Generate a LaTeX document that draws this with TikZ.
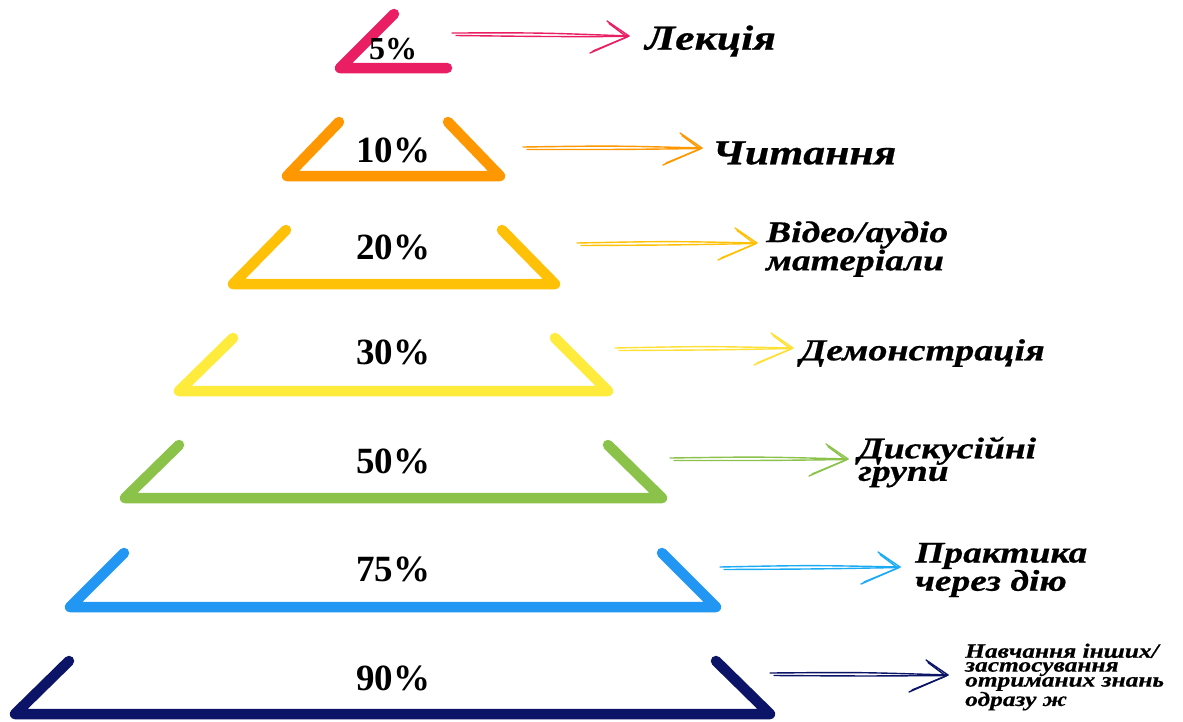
\documentclass[tikz,border=0pt]{standalone}
\usepackage{fontspec}
\setmainfont{Liberation Serif}
\newfontface\labfont[FakeStretch=1.25,FakeBold=0.6]{Liberation Serif Bold Italic}
\usetikzlibrary{calc}
\definecolor{cpink}{HTML}{E91E63}
\definecolor{corange}{HTML}{FF9800}
\definecolor{camber}{HTML}{FFC107}
\definecolor{cyellow}{HTML}{FFEB3B}
\definecolor{cgreen}{HTML}{8BC34A}
\definecolor{cblue}{HTML}{2196F3}
\definecolor{cnavy}{HTML}{0B1466}
\newcommand\hdarrow[3]{%
  \draw[arrline,#1] (#2) .. controls ($(#2)!0.5!(#3)+(0,-1.8)$) .. (#3);
  \draw[arrline,#1] ($(#2)+(4,2.5)$) .. controls ($(#2)!0.55!(#3)+(0,2)$) .. ($(#3)+(-1,0.5)$);
  \draw[arrline,#1] ($(#3)+(-22,-15)$) -- (#3) -- ($(#3)+(-39,17)$);
  \draw[arrline,#1] ($(#3)+(-20,-12.5)$) -- ($(#3)+(-2,1)$) -- ($(#3)+(-36,15)$);
}
\begin{document}
\begin{tikzpicture}[x=1pt,y=-1pt,
  lev/.style={line width=10.5pt,line cap=round,line join=round},
  pct/.style={font=\bfseries\fontsize{37}{37}\selectfont,inner sep=0pt},
  lab/.style={anchor=west,inner sep=0pt,align=left,font=\labfont\fontsize{35}{35}\selectfont},
  labmid/.style={lab,font=\labfont\fontsize{30.5}{30.5}\selectfont},
  labtwo/.style={lab,font=\labfont\fontsize{30}{22.5}\selectfont},
  labfour/.style={lab,font=\labfont\fontsize{20.3}{13.9}\selectfont},
  arrline/.style={line width=1.4pt,line cap=round,line join=round}]
\fill[white] (0,0) rectangle (1183,721);
\useasboundingbox (0,0) rectangle (1183,721);

% pyramid levels
\draw[lev,cpink]   (394,14)  -- (340,68)  -- (447,68);
\draw[lev,corange] (339,122) -- (287,176) -- (500,176) -- (448,122);
\draw[lev,camber]  (286,230) -- (233,284) -- (555,284) -- (502,230);
\draw[lev,cyellow] (233,338) -- (179,391) -- (608,391) -- (555,338);
\draw[lev,cgreen]  (179,445) -- (125,498) -- (662,498) -- (608,445);
\draw[lev,cblue]   (124,553) -- (70,607)  -- (716,607) -- (662,553);
\draw[lev,cnavy]   (69,661)  -- (15,714)  -- (770,714) -- (716,661);

% percentages
\node[pct,font=\bfseries\fontsize{32}{32}\selectfont] (p1) at (393,49) {5\%};
\node[pct] (p2) at (393,150) {10\%};
\node[pct] (p3) at (393,247) {20\%};
\node[pct] (p4) at (393,352) {30\%};
\node[pct] (p5) at (393,461) {50\%};
\node[pct] (p6) at (393,569) {75\%};
\node[pct] (p7) at (393,678) {90\%};

% labels
\node[lab] (l1) at (645,41) {Лекція};
\node[lab] (l2) at (712,153) {Читання};
\node[labtwo] (l3) at (766,249) {Відео/аудіо\\матеріали};
\node[labmid] (l4) at (800,353) {Демонстрація};
\node[labtwo] (l5) at (858,462) {Дискусійні\\групи};
\node[labtwo] (l6) at (915,570) {Практика\\через дію};
\node[labfour] (l7) at (965,677) {Навчання інших/\\застосування\\отриманих знань\\одразу ж};

% arrows
\coordinate (s1) at (452,33);  \coordinate (t1) at (629,36);
\coordinate (s2) at (523,147); \coordinate (t2) at (702,148);
\coordinate (s3) at (577,243); \coordinate (t3) at (757,243);
\coordinate (s4) at (615,348); \coordinate (t4) at (793,348);
\coordinate (s5) at (670,458); \coordinate (t5) at (848,459);
\coordinate (s6) at (720,567); \coordinate (t6) at (900,567);
\coordinate (s7) at (770,673); \coordinate (t7) at (948,675);
\hdarrow{cpink}{s1}{t1}
\hdarrow{corange}{s2}{t2}
\hdarrow{camber}{s3}{t3}
\hdarrow{cyellow!90!orange}{s4}{t4}
\hdarrow{cgreen}{s5}{t5}
\hdarrow{cblue!80!cyan}{s6}{t6}
\hdarrow{cnavy}{s7}{t7}
\end{tikzpicture}
\end{document}
